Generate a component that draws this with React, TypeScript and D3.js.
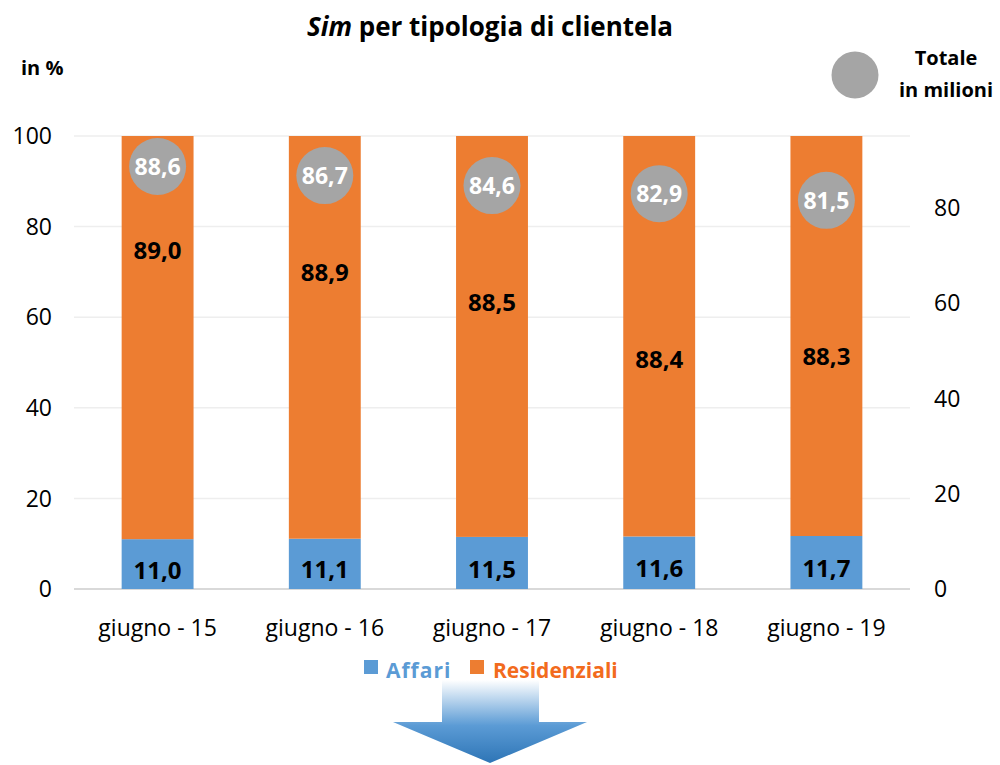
import React from "react";
import * as d3 from "d3";

const categories = ["giugno - 15", "giugno - 16", "giugno - 17", "giugno - 18", "giugno - 19"];
const affari = [11.0, 11.1, 11.5, 11.6, 11.7];
const residenziali = [89.0, 88.9, 88.5, 88.4, 88.3];
const totaleMilioni = [88.6, 86.7, 84.6, 82.9, 81.5];
const leftTicks = [0, 20, 40, 60, 80, 100];
const rightTicks = [0, 20, 40, 60, 80];
// where the residential value labels sit (in % of left axis), as placed in the original
const resLabelAt = [74.8, 69.8, 63.2, 50.6, 51.3];

const BLUE = "#5B9BD5";
const ORANGE = "#ED7D31";
const GREY = "#A5A5A5";
const FONT = "'Open Sans', 'DejaVu Sans', sans-serif";

const fmt = (v: number) => v.toFixed(1).replace(".", ",");

export default function App() {
  const W = 1000, H = 765;
  const left = 74, right = 910, top = 136, bottom = 589;
  const x = d3.scaleBand<string>().domain(categories).range([left, right]).paddingInner(0.57).paddingOuter(0.285);
  const yL = d3.scaleLinear().domain([0, 100]).range([bottom, top]);
  const yR = d3.scaleLinear().domain([0, 95]).range([bottom, top]);
  const bw = x.bandwidth();

  const arrowTop = 680, arrowMid = 722, arrowTip = 763, cx = 490;
  const arrowPath = `M${cx - 48},${arrowTop} L${cx + 49},${arrowTop} L${cx + 49},${arrowMid} L${cx + 97},${arrowMid} L${cx},${arrowTip} L${cx - 97},${arrowMid} L${cx - 48},${arrowMid} Z`;

  return (
    <svg width={W} height={H} style={{ position: "absolute", left: 0, top: 0, background: "#fff" }} fontFamily={FONT}>
      <defs>
        <linearGradient id="arrowGrad" x1="0" y1="0" x2="0" y2="1">
          <stop offset="0" stopColor="#FFFFFF" />
          <stop offset="0.55" stopColor="#5B9BD5" />
          <stop offset="1" stopColor="#2E75B6" />
        </linearGradient>
      </defs>
      <rect x={0} y={0} width={W} height={H} fill="#fff" />
      {/* title */}
      <text x={490} y={36} textAnchor="middle" fontSize={26} fontWeight={700} fill="#000">
        <tspan fontStyle="italic">Sim</tspan> per tipologia di clientela
      </text>
      <text x={21} y={75} fontSize={20} fontWeight={700} fill="#000">in %</text>

      {/* grid */}
      {leftTicks.map((t) => (
        <line key={t} x1={left} x2={right} y1={yL(t)} y2={yL(t)} stroke={t === 0 ? "#D9D9D9" : "#EEEEEE"} strokeWidth={t === 0 ? 2 : 1.5} />
      ))}
      {/* left axis labels */}
      {leftTicks.map((t) => (
        <text key={t} x={52} y={yL(t)} dy="0.36em" textAnchor="end" fontSize={23} fill="#000">{t}</text>
      ))}
      {/* right axis labels */}
      {rightTicks.map((t) => (
        <text key={t} x={934} y={yR(t)} dy="0.36em" textAnchor="start" fontSize={23} fill="#000">{t}</text>
      ))}

      {/* bars */}
      {categories.map((c, i) => {
        const x0 = x(c)!;
        const xc = x0 + bw / 2;
        const total = affari[i] + residenziali[i];
        return (
          <g key={c}>
            <rect x={x0} y={yL(affari[i])} width={bw} height={yL(0) - yL(affari[i])} fill={BLUE} />
            <rect x={x0} y={yL(Math.min(100, total))} width={bw} height={yL(affari[i]) - yL(Math.min(100, total))} fill={ORANGE} />
            <text x={xc} y={yL(affari[i] / 2) + 6} dy="0.36em" textAnchor="middle" fontSize={24} fontWeight={700} fill="#000">{fmt(affari[i])}</text>
            <text x={xc} y={yL(resLabelAt[i])} dy="0.36em" textAnchor="middle" fontSize={24} fontWeight={700} fill="#000">{fmt(residenziali[i])}</text>
            <circle cx={xc} cy={yR(totaleMilioni[i])} r={28.5} fill={GREY} />
            <text x={xc} y={yR(totaleMilioni[i])} dy="0.36em" textAnchor="middle" fontSize={23} fontWeight={700} fill="#fff">{fmt(totaleMilioni[i])}</text>
            <text x={xc} y={636} textAnchor="middle" fontSize={23} fill="#000">{c}</text>
          </g>
        );
      })}

      {/* totale legend */}
      <circle cx={855} cy={75} r={23.5} fill={GREY} />
      <text x={946} y={65} textAnchor="middle" fontSize={20} fontWeight={700} fill="#000">Totale</text>
      <text x={946} y={97} textAnchor="middle" fontSize={20} fontWeight={700} fill="#000">in milioni</text>

      {/* series legend */}
      <rect x={364} y={660} width={14} height={14} fill={BLUE} />
      <text x={386} y={678} fontSize={21} fontWeight={700} fill={BLUE} letterSpacing={1}>Affari</text>
      <rect x={470} y={660} width={14} height={14} fill={ORANGE} />
      <text x={493} y={678} fontSize={21} fontWeight={700} fill="#F26B1D">Residenziali</text>

      {/* arrow */}
      <path d={arrowPath} fill="url(#arrowGrad)" />
    </svg>
  );
}
